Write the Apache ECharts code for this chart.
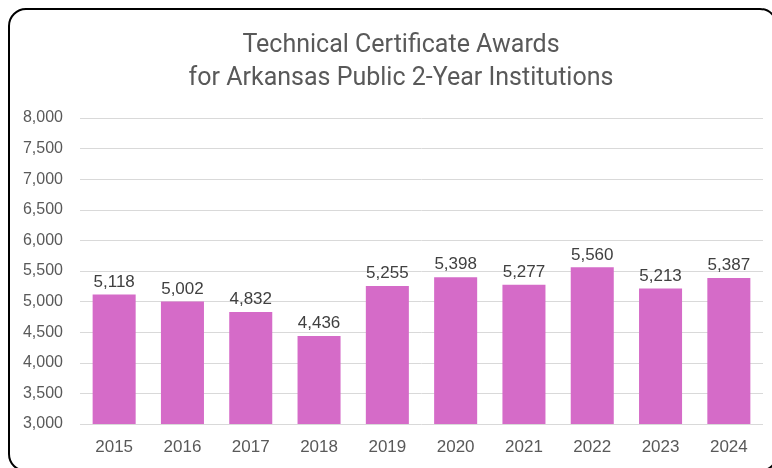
<!DOCTYPE html>
<html><head><meta charset="utf-8">
<script src="https://cdn.jsdelivr.net/npm/echarts@6/dist/echarts.min.js"></script>
<style>
html,body{margin:0;padding:0;background:#fff;}
#frame{position:absolute;left:8px;top:8px;width:770px;height:464px;border:2px solid #000;border-radius:18px;box-sizing:border-box;}
#c{position:absolute;left:0;top:0;width:772px;height:468px;}
</style></head>
<body>
<div id="frame"></div>
<div id="c"></div>
<script>
var years = ['2015','2016','2017','2018','2019','2020','2021','2022','2023','2024'];
var awards = [5118,5002,4832,4436,5255,5398,5277,5560,5213,5387];
var titleLines = ['Technical Certificate Awards','for Arkansas Public 2-Year Institutions'];

var bodyFont = "'Liberation Sans', Arial, sans-serif";
var chart = echarts.init(document.getElementById('c'), null, {renderer:'canvas'});
chart.setOption({
  animation:false,
  title:{text:titleLines.join('\n'),left:396,top:24,textAlign:'center',
    textStyle:{fontFamily:"Roboto, sans-serif",fontWeight:'normal',fontSize:25,color:'#595959',lineHeight:33}},
  grid:{left:80,right:9,top:118,bottom:44},
  xAxis:{type:'category',data:years,
    axisLine:{show:false},axisTick:{show:false},
    axisLabel:{color:'#595959',fontFamily:bodyFont,fontSize:17,margin:15}},
  yAxis:{type:'value',min:3000,max:8000,interval:500,
    axisLabel:{color:'#595959',fontFamily:bodyFont,fontSize:16,margin:17,
      formatter:function(v){return v.toLocaleString('en-US');}},
    splitLine:{lineStyle:{color:'#d9d9d9',width:1}},
    axisLine:{show:false},axisTick:{show:false}},
  series:[{type:'bar',data:awards,barWidth:'63%',
    itemStyle:{color:'#D56BC8'},
    label:{show:true,position:'top',distance:4,color:'#404040',fontFamily:bodyFont,fontSize:17,
      formatter:function(p){return p.value.toLocaleString('en-US');}}}]
});
</script>
</body></html>
